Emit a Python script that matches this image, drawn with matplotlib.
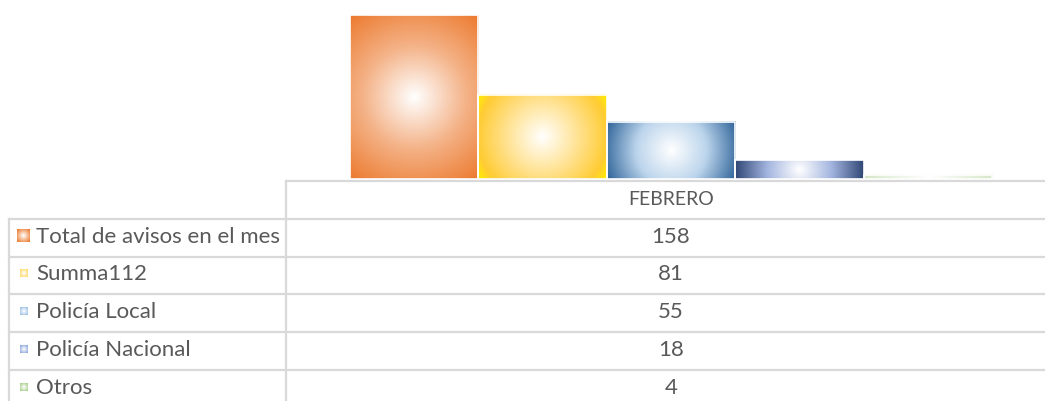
import numpy as np
import matplotlib
matplotlib.use("Agg")
import matplotlib.pyplot as plt
from matplotlib.colors import LinearSegmentedColormap

# data
month = "FEBRERO"
series = ["Total de avisos en el mes", "Summa112", "Policía Local",
          "Policía Nacional", "Otros"]
values = [158, 81, 55, 18, 4]

# gradient stops per series (centre -> edge)
stops = [
    [(0, "#FFFFFF"), (0.5, "#F4B287"), (1, "#EC7A2E")],
    [(0, "#FFFFFF"), (0.5, "#FFE08A"), (0.85, "#FFCC33"), (1, "#FFEE00")],
    [(0, "#FFFFFF"), (0.5, "#BCD5EC"), (1, "#2E6399")],
    [(0, "#FFFFFF"), (0.5, "#A3B5DF"), (1, "#2F4675")],
    [(0, "#FFFFFF"), (1, "#D5E8C8")],
]
# legend key colours (edge of the small square)
key_cols = ["#EC7A2E", "#FFD966", "#9DC3E6", "#8FAADC", "#A9D18E"]

W, H = 1045, 401
text_col = "#595959"
grid_col = "#D9D9D9"
plt.rcParams["font.family"] = ["Lato", "DejaVu Sans"]


def gradient(wpx, hpx, st):
    nx = max(int(round(wpx)), 2)
    ny = max(int(round(hpx)), 2)
    x = np.linspace(-wpx / 2, wpx / 2, nx)
    y = np.linspace(-hpx / 2, hpx / 2, ny)
    X, Y = np.meshgrid(x, y)
    r = np.sqrt(X ** 2 + Y ** 2) / np.hypot(wpx / 2, hpx / 2)
    cmap = LinearSegmentedColormap.from_list("g", st)
    return cmap(np.clip(r, 0, 1))


fig = plt.figure(figsize=(W / 100, H / 100), dpi=100)

# chart area (the category column continues past the right edge)
left, right, base = 286, 1056, 179
ax = fig.add_axes([left / W, 1 - base / H, (right - left) / W, base / H])
ymax = 172.5
ax.set_xlim(-0.5, 0.5)
ax.set_ylim(0, ymax)
ax.axis("off")

n = len(values)
bw = 0.1667
xs = (np.arange(n) - (n - 1) / 2) * bw
px_x = (right - left)            # pixels per x unit
px_y = base / ymax               # pixels per y unit
bars = ax.bar(xs, values, width=bw, facecolor="none", edgecolor="white",
              linewidth=1.2, zorder=3)
for b, v, st in zip(bars, values, stops):
    x0 = b.get_x()
    img = gradient(bw * px_x, v * px_y, st)
    ax.imshow(img, extent=(x0, x0 + bw, 0, v), origin="lower",
              aspect="auto", zorder=2, interpolation="bilinear")
ax.set_xlim(-0.5, 0.5)
ax.set_ylim(0, ymax)

# data table (pixel coordinates)
tb = fig.add_axes([0, 0, 1, 1])
tb.set_xlim(0, W)
tb.set_ylim(H, 0)
tb.axis("off")
tb.set_zorder(-1)

row_h = 37.8
top = 181
tab_left = 9
col_c = (left + right) / 2

tb.plot([left, W], [top, top], color=grid_col, lw=1.6)
tb.plot([left, left], [top, H], color=grid_col, lw=1.6)
tb.plot([tab_left, tab_left], [top + row_h, H], color=grid_col, lw=1.6)
tb.text(col_c, top + row_h / 2, month, ha="center", va="center",
        fontsize=14, color=text_col)
for i, (name, v, kcol) in enumerate(zip(series, values, key_cols)):
    y0 = top + row_h * (i + 1)
    tb.plot([tab_left, W], [y0, y0], color=grid_col, lw=1.6)
    yc = y0 + row_h / 2
    tb.text(36, yc - 1, name, ha="left", va="center", fontsize=16,
            color=text_col)
    tb.text(col_c, yc - 1, str(v), ha="center", va="center", fontsize=16,
            color=text_col)
    k = 13 if i == 0 else 8
    kc = 23.5
    tb.imshow(gradient(k, k, [(0, "#FFFFFF"), (1, kcol)]),
              extent=(kc - k / 2, kc + k / 2, yc - 2 + k / 2, yc - 2 - k / 2),
              aspect="auto", zorder=3)
tb.set_xlim(0, W)
tb.set_ylim(H, 0)

fig.savefig("out.png", dpi=100)
